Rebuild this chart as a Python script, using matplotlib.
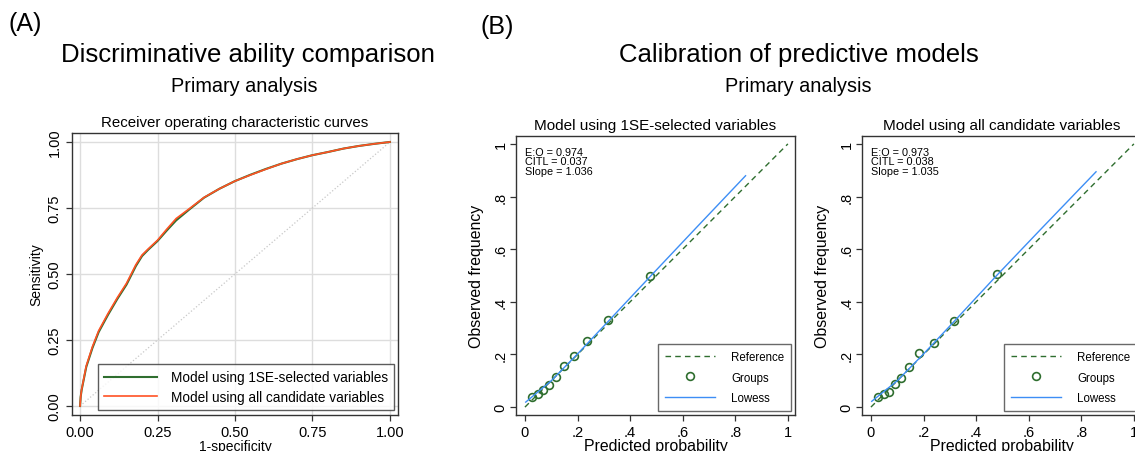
import matplotlib
matplotlib.use("Agg")
import matplotlib.pyplot as plt
import numpy as np

plt.rcParams["font.family"] = ["Liberation Sans", "DejaVu Sans"]

# ROC curves (1-specificity, sensitivity)
roc_fpr = [0.0, 0.002, 0.005, 0.02, 0.04, 0.06, 0.09, 0.12, 0.15, 0.18, 0.2, 0.22, 0.25,
           0.28, 0.31, 0.35, 0.4, 0.45, 0.5, 0.55, 0.6, 0.65, 0.7, 0.75, 0.8, 0.85,
           0.9, 0.95, 1.0]
roc_1se = [0.0, 0.035, 0.06, 0.148, 0.22, 0.28, 0.345, 0.405, 0.46, 0.53, 0.568, 0.592, 0.625,
           0.665, 0.703, 0.742, 0.789, 0.823, 0.852, 0.876, 0.898, 0.918, 0.935, 0.95, 0.962,
           0.975, 0.985, 0.993, 1.0]
roc_all = [0.0, 0.035, 0.062, 0.152, 0.225, 0.285, 0.35, 0.41, 0.465, 0.535, 0.572, 0.595, 0.628,
           0.67, 0.71, 0.745, 0.79, 0.823, 0.852, 0.875, 0.897, 0.918, 0.935, 0.95, 0.962,
           0.975, 0.985, 0.993, 1.0]

# Calibration groups and lowess
cal_1se_pred = [0.025, 0.051, 0.07, 0.091, 0.117, 0.147, 0.185, 0.237, 0.316, 0.477]
cal_1se_obs = [0.038, 0.048, 0.064, 0.083, 0.115, 0.157, 0.196, 0.252, 0.331, 0.499]
low_1se_x = [0.003, 0.1, 0.2, 0.3, 0.48, 0.65, 0.839]
low_1se_y = [0.019, 0.1, 0.202, 0.308, 0.5, 0.68, 0.879]

cal_all_pred = [0.025, 0.051, 0.07, 0.091, 0.116, 0.146, 0.184, 0.238, 0.315, 0.481]
cal_all_obs = [0.038, 0.048, 0.056, 0.088, 0.11, 0.152, 0.204, 0.245, 0.327, 0.507]
low_all_x = [0.003, 0.1, 0.2, 0.3, 0.48, 0.65, 0.856]
low_all_y = [0.022, 0.1, 0.202, 0.308, 0.502, 0.68, 0.894]

stats_1se = ["E:O = 0.974", "CITL = 0.037", "Slope = 1.036"]
stats_all = ["E:O = 0.973", "CITL = 0.038", "Slope = 1.035"]

W, H = 1135, 452
GREEN = "#2f6e2f"
ORANGE = "#ff5224"
BLUE = "#3d8ef5"


def px_axes(fig, left, top, right, bottom):
    return fig.add_axes([left / W, 1 - bottom / H, (right - left) / W, (bottom - top) / H])


def style_axes(ax):
    for s in ax.spines.values():
        s.set_color("#333333")
        s.set_linewidth(1.0)
    ax.tick_params(direction="out", length=4, width=0.9, color="#333333")


fig = plt.figure(figsize=(W / 100, H / 100), dpi=100)

# Titles
fig.text(9 / W, 1 - 24 / H, "(A)", fontsize=18, va="center", ha="left")
fig.text(248 / W, 1 - 55 / H, "Discriminative ability comparison", fontsize=18.5, va="center", ha="center")
fig.text(244 / W, 1 - 87 / H, "Primary analysis", fontsize=14.3, va="center", ha="center")
fig.text(481 / W, 1 - 27 / H, "(B)", fontsize=18, va="center", ha="left")
fig.text(799 / W, 1 - 55 / H, "Calibration of predictive models", fontsize=18.5, va="center", ha="center")
fig.text(798 / W, 1 - 87 / H, "Primary analysis", fontsize=14.3, va="center", ha="center")

# Panel A: ROC
ax = px_axes(fig, 72, 134, 398, 416)
style_axes(ax)
ticks = [0, 0.25, 0.5, 0.75, 1.0]
ax.set_xticks(ticks)
ax.set_yticks(ticks)
ax.set_xticklabels([f"{t:.2f}" for t in ticks], fontsize=10.5)
ax.set_yticklabels([f"{t:.2f}" for t in ticks], fontsize=10.5, rotation=90, va="center")
ax.grid(True, color="#dddddd", linewidth=1.0)
ax.set_axisbelow(True)
ax.plot([0, 1], [0, 1], color="#c8c8c8", linestyle=":", linewidth=0.9)
ax.plot(roc_fpr, roc_1se, color=GREEN, linewidth=1.5, label="Model using 1SE-selected variables")
ax.plot(roc_fpr, roc_all, color=ORANGE, linewidth=1.2, label="Model using all candidate variables")
ax.set_xlim(-0.026, 1.026)
ax.set_ylim(-0.034, 1.034)
ax.set_xlabel("1-specificity", fontsize=10, labelpad=0)
ax.set_ylabel("Sensitivity", fontsize=10)
ax.yaxis.set_label_coords(-0.089, 0.5)
ax.set_title("Receiver operating characteristic curves", fontsize=10.8, pad=5)
leg = ax.legend(loc="lower right", bbox_to_anchor=(0.988, 0.018), fontsize=9.8, frameon=True,
                fancybox=False, edgecolor="#333333", handlelength=3.9, handletextpad=1.0,
                borderpad=0.45, labelspacing=0.4, borderaxespad=0)
leg.get_frame().set_linewidth(1.0)


def calib_panel(left, right, title, pred, obs, lx, ly, stats):
    ax = px_axes(fig, left, 137, right, 416)
    style_axes(ax)
    ax.tick_params(axis="y", pad=2)
    ax.plot([0, 1], [0, 1], color=GREEN, linestyle=(0, (4, 3)), linewidth=1.0, label="Reference")
    ax.plot(pred, obs, linestyle="none", marker="o", markersize=5.6, markerfacecolor="none",
            markeredgecolor=GREEN, markeredgewidth=1.2, label="Groups")
    ax.plot(lx, ly, color=BLUE, linewidth=1.0, label="Lowess")
    ax.set_xlim(-0.034, 1.027)
    ax.set_ylim(-0.03, 1.03)
    t = [0, 0.2, 0.4, 0.6, 0.8, 1.0]
    lab = ["0", ".2", ".4", ".6", ".8", "1"]
    ax.set_xticks(t)
    ax.set_yticks(t)
    ax.set_xticklabels(lab, fontsize=10.5)
    ax.set_yticklabels(lab, fontsize=10.5, rotation=90, va="center")
    ax.set_xlabel("Predicted probability", fontsize=11.4, labelpad=-1)
    ax.set_ylabel("Observed frequency", fontsize=11.4)
    ax.yaxis.set_label_coords(-0.113, 0.5)
    ax.set_title(title, fontsize=11, pad=5)
    ax.text(0.0, 0.99, "\n".join(stats), fontsize=7.8, va="top", ha="left", linespacing=0.98)
    leg = ax.legend(loc="lower right", bbox_to_anchor=(0.986, 0.014), fontsize=8.3, frameon=True,
                    fancybox=False, edgecolor="#444444", handlelength=4.3, handletextpad=1.4,
                    borderpad=0.6, labelspacing=0.75, borderaxespad=0)
    leg.get_frame().set_linewidth(1.0)
    return ax


calib_panel(516, 795, "Model using 1SE-selected variables",
            cal_1se_pred, cal_1se_obs, low_1se_x, low_1se_y, stats_1se)
calib_panel(862, 1141, "Model using all candidate variables",
            cal_all_pred, cal_all_obs, low_all_x, low_all_y, stats_all)

fig.savefig("out.png", dpi=100)
